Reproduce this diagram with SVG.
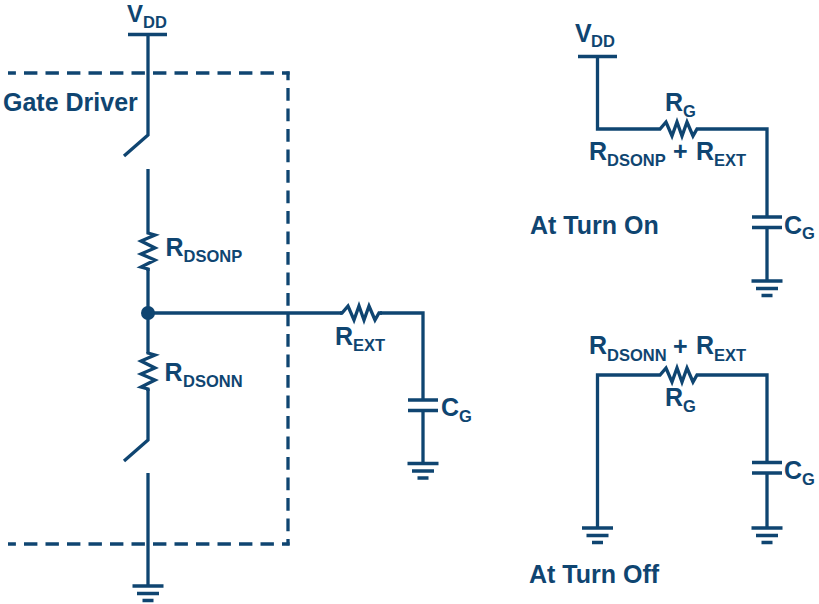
<svg xmlns="http://www.w3.org/2000/svg" width="819" height="604" viewBox="0 0 819 604">
<style>
.w{fill:none;stroke:#0f4571;stroke-width:3.3;stroke-linejoin:miter}
.dh{fill:none;stroke:#0f4571;stroke-width:3.3;stroke-dasharray:13.4 8.100;stroke-dashoffset:5.500}
.dv{fill:none;stroke:#0f4571;stroke-width:3.3;stroke-dasharray:12.800 7.700;stroke-dashoffset:4}
text{font-family:"Liberation Sans",Arial,sans-serif;font-weight:700;fill:#0f4571;font-size:25px}
.s{font-size:16.500px}
</style>
<defs>
<g id="gnd"><path class="w" d="M-15.500 0H15.500M-11 7.500H11M-5.500 14.500H5.500"/></g>
<g id="cap"><path class="w" d="M-15 0H15M-15 10.500H15"/></g>
<path id="rh" class="w" d="M0 0H2L8-7L14 7L19-7L24 7L29-7L35 7L39 0H42"/>
<path id="rv" class="w" d="M0 0V1L7 3L-7 9L7 16L-7 22L7 28L-7 35L0 37V39"/>
</defs>
<rect width="819" height="604" fill="#fff"/>
<g id="connectors">
<path class="dh" d="M8 73H289.600"/>
<path class="dv" d="M288 71.400V545.200"/>
<path class="dh" d="M8 544H289.600"/>
<path class="w" d="M148 34V135L124 156"/>
<path class="w" d="M148 169V232M148 268V353M148 389V440L124 461M148 473V586"/>
<path class="w" d="M148 313H342M380 313H423V400M423 411V463"/>
<path class="w" d="M597.500 56V129H658M700 129H767V217M767 228V281"/>
<path class="w" d="M597.500 528V375H658M700 375H767V463M767 473V528"/>
</g>
<g id="vdd-main"><path class="w" d="M128 34.500H167"/><text x="127" y="21.800" style="font-size:24px">V</text><text class="s" x="143" y="28">DD</text></g>
<g id="gate-driver"><text x="3" y="111">Gate Driver</text></g>
<g id="r-dsonp"><use href="#rv" x="148" y="232"/><text x="165.500" y="256">R</text><text class="s" x="183.500" y="262">DSONP</text></g>
<g id="junction"><circle cx="148" cy="313" r="7" fill="#0f4571"/></g>
<g id="r-dsonn"><use href="#rv" x="148" y="352"/><text x="164.500" y="381">R</text><text class="s" x="183" y="387">DSONN</text></g>
<g id="gnd-main"><use href="#gnd" x="148" y="586"/></g>
<g id="r-ext"><use href="#rh" x="340" y="313"/><text x="335" y="345">R</text><text class="s" x="353" y="351">EXT</text></g>
<g id="cg-main"><use href="#cap" x="423" y="400"/><text x="441" y="416">C</text><text class="s" x="459" y="422">G</text><use href="#gnd" x="423" y="463.500"/></g>
<g id="vdd-on"><path class="w" d="M578 56.500H617"/><text x="575" y="42">V</text><text class="s" x="591" y="47">DD</text></g>
<g id="rg-on"><use href="#rh" x="658" y="129"/><text x="665" y="111">R</text><text class="s" x="683" y="117">G</text></g>
<g id="label-on"><text x="589" y="160">R</text><text class="s" x="607" y="166">DSONP</text><text x="673" y="160">+</text><text x="696" y="160">R</text><text class="s" x="714" y="166">EXT</text></g>
<g id="cg-on"><use href="#cap" x="767" y="217"/><text x="784" y="234">C</text><text class="s" x="802" y="239">G</text><use href="#gnd" x="767" y="281"/></g>
<g id="title-on"><text x="530" y="234">At Turn On</text></g>
<g id="label-off"><text x="589" y="354">R</text><text class="s" x="607" y="360.500">DSONN</text><text x="673" y="355">+</text><text x="696" y="354">R</text><text class="s" x="714" y="360.500">EXT</text></g>
<g id="rg-off"><use href="#rh" x="658" y="375"/><text x="665" y="406">R</text><text class="s" x="683" y="412">G</text></g>
<g id="gnd-off"><use href="#gnd" x="597.500" y="528"/></g>
<g id="cg-off"><use href="#cap" x="767" y="462.500"/><text x="784" y="479">C</text><text class="s" x="802" y="485">G</text><use href="#gnd" x="767" y="528"/></g>
<g id="title-off"><text x="529" y="583">At Turn Off</text></g>
</svg>
